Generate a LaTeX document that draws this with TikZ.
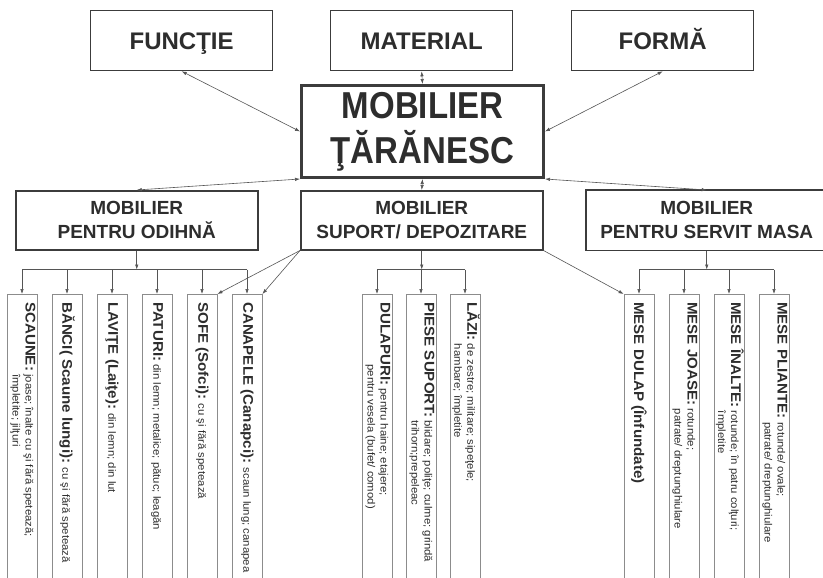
\documentclass[tikz,border=0pt]{standalone}
\usepackage{fontspec}
\setmainfont{Liberation Sans}
\newfontfamily\narrowsans[FakeStretch=0.88]{Liberation Sans}
\newfontfamily\colfont[FakeStretch=1.08]{Liberation Sans}
\usetikzlibrary{arrows.meta}
\usetikzlibrary{calc}
\definecolor{ink}{RGB}{45,45,45}
\definecolor{frame}{RGB}{60,60,60}
\definecolor{pale}{RGB}{140,140,140}
\definecolor{wire}{RGB}{85,85,85}
\newcommand{\titlefont}{\narrowsans\bfseries\fontsize{37.5}{45}\selectfont}
\newcommand{\colsmall}{\colfont\fontsize{10.5}{13}\selectfont}
\newcommand{\collabel}[1]{{\colfont\bfseries\fontsize{14}{15}\selectfont #1}}
\tikzset{box/.style={draw=frame,line width=1.3pt,text=ink,align=center,inner sep=0pt,anchor=north west}}
\tikzset{topbox/.style={box,minimum width=182pt,minimum height=60pt,text height=17.5pt,text depth=0pt,font=\bfseries\fontsize{24}{28}\selectfont}}
\tikzset{midbox/.style={box,line width=1.5pt,minimum width=242pt,minimum height=59pt,font=\bfseries\fontsize{19}{24}\selectfont}}
\tikzset{twohead/.style={{Latex[length=5pt,width=3.5pt]}-{Latex[length=5pt,width=3.5pt]},draw=wire,line width=0.6pt}}
\tikzset{onehead/.style={-{Latex[length=5pt,width=3.5pt]},draw=wire,line width=0.6pt}}
\tikzset{wireline/.style={draw=wire,line width=0.6pt}}

\begin{document}
\begin{tikzpicture}[x=1pt,y=-1pt]
\tikzset{column/.style={draw=pale,line width=0.8pt,minimum width=30pt,minimum height=330pt,anchor=north,inner sep=0pt}}
\tikzset{coltext/.style={rotate=-90,anchor=west,inner sep=0pt,text=ink,font=\colsmall}}
\useasboundingbox (0,0) rectangle (823,578);
\clip (0,0) rectangle (823,578);
\fill[white] (0,0) rectangle (823,578);

% criterii
\node[topbox] (functie) at (90,10) {FUNCŢIE};
\node[topbox] (material) at (330,10) {MATERIAL};
\node[topbox] (forma) at (571,10) {FORMĂ};
\node[box,line width=3pt,minimum width=242pt,minimum height=92pt,font=\titlefont] (mobilier) at (300,84) {MOBILIER\\ŢĂRĂNESC};
\draw[twohead] (functie.south) -- (mobilier.west);
\draw[twohead] (material.south) -- (mobilier.north);
\draw[twohead] (forma.south) -- (mobilier.east);

% categorii
\node[midbox] (odihna) at (15,190) {MOBILIER\\PENTRU ODIHNĂ};
\node[midbox] (suport) at (300,190) {MOBILIER\\SUPORT/ DEPOZITARE};
\node[midbox,draw=none,minimum width=240pt] (servit) at (586,190) {MOBILIER\\PENTRU SERVIT MASA};
% caseta din dreapta iese din pagina
\draw[draw=frame,line width=1.5pt] ($(servit.north east)+(20,0)$) -- (servit.north west)
  -- (servit.south west) -- ($(servit.south east)+(20,0)$);
\draw[twohead] (mobilier.south west) -- (odihna.north);
\draw[twohead] (mobilier.south) -- (suport.north);
\draw[twohead] (mobilier.south east) -- (servit.north);

% coloane
\foreach \n/\x in {scaune/22,banci/67,lavite/112,paturi/157,sofe/202,canapele/247,
  dulapuri/377,piese/421,lazi/465,mesedulap/639,mesejoase/684,meseinalte/729,mesepliante/774}
  \node[column] (\n) at (\x,294) {};

\coordinate (busodihna) at ($(odihna.south)+(0,19)$);
\coordinate (bussuport) at ($(suport.south)+(0,19)$);
\coordinate (busservit) at ($(servit.south)+(0,19)$);
\draw[onehead] (odihna.south) -- (busodihna);
\draw[onehead] (suport.south) -- (bussuport);
\draw[onehead] (servit.south) -- (busservit);
\draw[wireline] (scaune.north |- busodihna) -- (canapele.north |- busodihna);
\draw[wireline] (dulapuri.north |- bussuport) -- (lazi.north |- bussuport);
\draw[wireline] (mesedulap.north |- busservit) -- (mesepliante.north |- busservit);
\foreach \n in {scaune,banci,lavite,paturi,sofe,canapele}
  \draw[onehead] (\n.north |- busodihna) -- (\n.north);
\foreach \n in {dulapuri,piese,lazi}
  \draw[onehead] (\n.north |- bussuport) -- (\n.north);
\foreach \n in {mesedulap,mesejoase,meseinalte,mesepliante}
  \draw[onehead] (\n.north |- busservit) -- (\n.north);
\draw[onehead] (suport.south west) -- (sofe.north east);
\draw[onehead] (suport.south west) -- (canapele.north east);
\draw[onehead] (suport.south east) -- (mesedulap.north west);

% texte
\node[coltext] (tscaune) at ($(scaune.north)+(0,8)$) {\collabel{SCAUNE:} \begin{tabular}[t]{@{}l@{}}joase; înalte cu şi fără spetează;\\împletite; jilţuri\end{tabular}};
\node[coltext] (tbanci) at ($(banci.north)+(0,8)$) {\collabel{BĂNCI( Scaune lungi):} cu şi fără spetează};
\node[coltext] (tlavite) at ($(lavite.north)+(0,8)$) {\collabel{LAVIŢE (Laiţe):} din lemn; din lut};
\node[coltext] (tpaturi) at ($(paturi.north)+(0,8)$) {\collabel{PATURI:} din lemn; metalice; pătuc; leagăn};
\node[coltext] (tsofe) at ($(sofe.north)+(0,8)$) {\collabel{SOFE (Sofci):} cu şi fără spetează};
\node[coltext] (tcanapele) at ($(canapele.north)+(0,8)$) {\collabel{CANAPELE (Canapci):} scaun lung; canapea};
\node[coltext] (tdulapuri) at ($(dulapuri.north)+(0,8)$) {\collabel{DULAPURI:} \begin{tabular}[t]{@{}l@{}}pentru haine; etajere;\\\hspace*{-24pt}pentru vesela (bufet/ comod)\end{tabular}};
\node[coltext] (tpiese) at ($(piese.north)+(0,8)$) {\collabel{PIESE SUPORT:} \begin{tabular}[t]{@{}l@{}}blidare; poliţe; culme; grindă\\trihorn;prepeleac\end{tabular}};
\node[coltext] (tlazi) at ($(lazi.north)+(0,8)$) {\collabel{LĂZI:} \begin{tabular}[t]{@{}l@{}}de zestre; militare; sipeţele;\\hambare; împletite\end{tabular}};
\node[coltext] (tmesedulap) at ($(mesedulap.north)+(0,8)$) {\collabel{MESE DULAP (Înfundate)}};
\node[coltext] (tmesejoase) at ($(mesejoase.north)+(0,8)$) {\collabel{MESE JOASE:} \begin{tabular}[t]{@{}l@{}}rotunde;\\patrate/ dreptunghiulare\end{tabular}};
\node[coltext] (tmeseinalte) at ($(meseinalte.north)+(0,8)$) {\collabel{MESE ÎNALTE:} \begin{tabular}[t]{@{}l@{}}rotunde; în patru colţuri;\\împletite\end{tabular}};
\node[coltext] (tmesepliante) at ($(mesepliante.north)+(0,8)$) {\collabel{MESE PLIANTE:} \begin{tabular}[t]{@{}l@{}}rotunde/ ovale;\\patrate/ dreptunghiulare\end{tabular}};
\end{tikzpicture}
\end{document}
